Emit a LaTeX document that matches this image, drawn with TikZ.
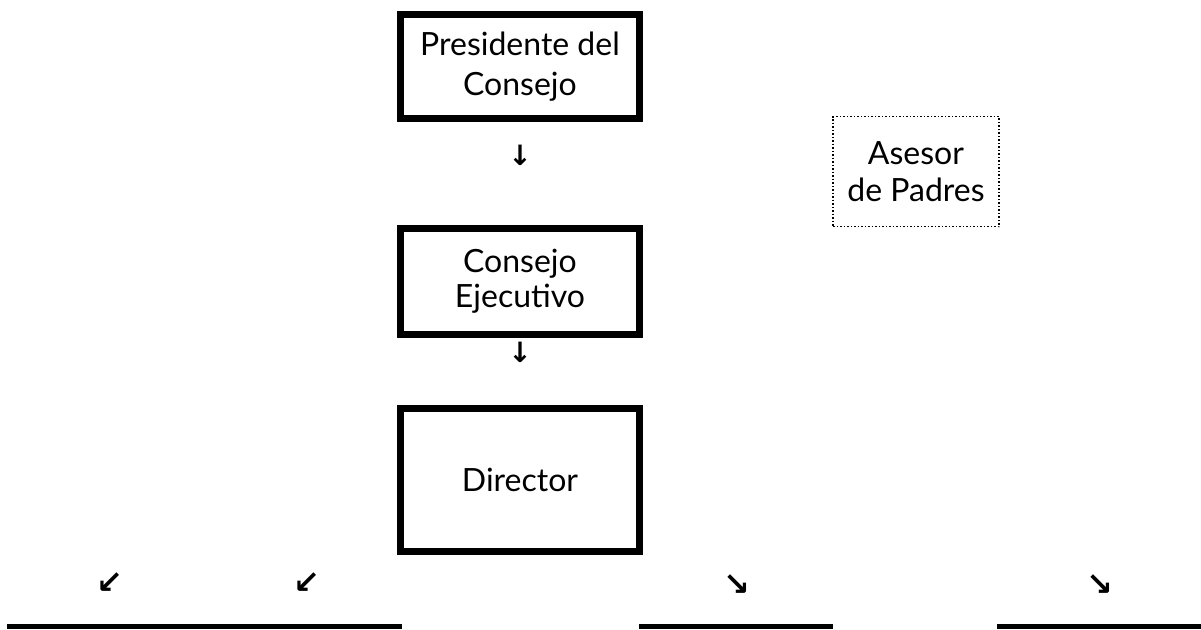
\documentclass[tikz,border=0pt]{standalone}
\usepackage{fontspec}
\setmainfont{Lato}
\newfontfamily\arrowfont{DejaVu Sans}
\usetikzlibrary{positioning}

\begin{document}
\begin{tikzpicture}[x=0.5pt,y=-0.5pt,
  orgbox/.style={draw,line width=3.5pt,align=center,inner sep=0pt,
    font=\fontsize{16}{18}\selectfont},
  advbox/.style={draw,densely dotted,line width=0.75pt,align=center,inner sep=0pt,
    font=\fontsize{16}{18.5}\selectfont},
  glyph/.style={inner sep=0pt,font=\arrowfont\bfseries\fontsize{14}{14}\selectfont},
  slant/.style={glyph,font=\arrowfont\bfseries\fontsize{16}{16}\selectfont},
  baseline/.style={line width=2.5pt}]
\useasboundingbox (0,0) rectangle (1201,629);

% main chain
\node[orgbox,minimum width=119.5pt,minimum height=52pt,
  font=\fontsize{16}{20}\selectfont] (pres) at (520,66.5) {Presidente del\\Consejo};
\node[glyph] (arr1) at (520,155) {↓};
\node[orgbox,minimum width=119.5pt,minimum height=53pt,
  font=\fontsize{16}{17.5}\selectfont] (ejec) at (520,281.5) {Consejo\\Ejecutivo};
\node[glyph] (arr2) at (520,352) {↓};
\node[orgbox,minimum width=119.5pt,minimum height=71.5pt] (dir) at (520,480) {Director};

% adviser
\node[advbox,minimum width=83pt,minimum height=55pt] (ases) at (916,171.5) {Asesor\\de Padres};

% arrows below the director
\node[slant] (sw1) at (110,583) {↙};
\node[slant] (sw2) at (307,583) {↙};
\node[slant] (se1) at (737,585) {↘};
\node[slant] (se2) at (1100,585) {↘};

% lines at the foot
\coordinate (l1a) at (7,626.5);
\coordinate (l1b) at (402,626.5);
\coordinate (l2a) at (639,626.5);
\coordinate (l2b) at (833,626.5);
\coordinate (l3a) at (997,626.5);
\coordinate (l3b) at (1201,626.5);
\draw[baseline] (l1a) -- (l1b);
\draw[baseline] (l2a) -- (l2b);
\draw[baseline] (l3a) -- (l3b);
\end{tikzpicture}
\end{document}
